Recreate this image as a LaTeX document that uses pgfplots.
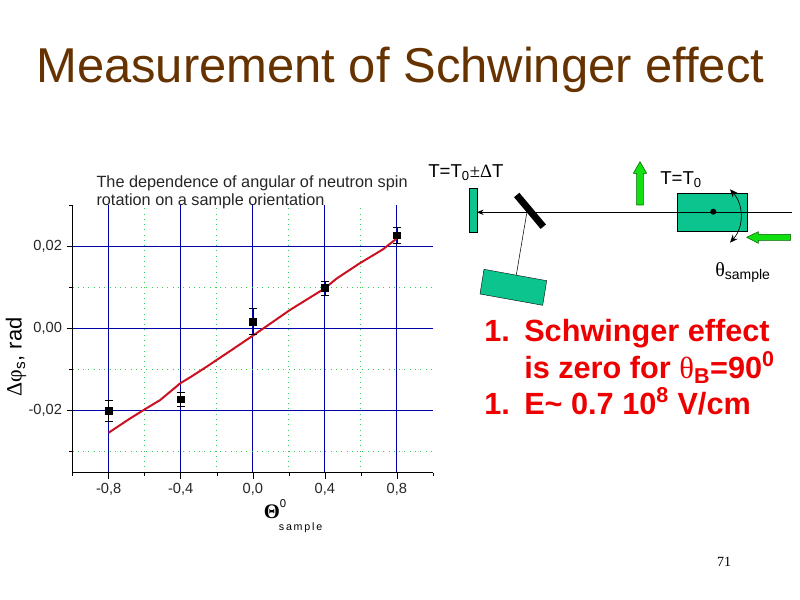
\documentclass[border=0pt]{standalone}
\usepackage{fontspec}
\usepackage{pgfplots}
\usepackage{pgfplotstable}
\pgfplotsset{compat=1.18}
\usetikzlibrary{arrows.meta}
\setmainfont{Liberation Sans}
\newfontfamily\sym{Liberation Serif}

\definecolor{titlebrown}{HTML}{663300}
\definecolor{gridblue}{HTML}{0000AA}
\definecolor{gridgreen}{HTML}{33CC55}
\definecolor{fitred}{HTML}{CC1122}
\definecolor{teal}{HTML}{0CC48E}
\definecolor{arrowgreen}{HTML}{11E011}
\definecolor{textred}{HTML}{EE0000}

% measured points
\pgfplotstableread{
x y err
-0.8 -0.0201 0.0026
-0.4 -0.0173 0.00175
0.0 0.0017 0.0032
0.4 0.0098 0.0017
0.8 0.0227 0.00195
}\points

% red fit line
\pgfplotstableread{
x y
-0.8 -0.02545
-0.689 -0.0222
-0.6 -0.01976
-0.514 -0.01748
-0.403 -0.01341
-0.348 -0.01195
-0.256 -0.00935
-0.126 -0.00553
0 -0.00179
0.113 0.00163
0.206 0.00447
0.4 0.00976
0.464 0.0121
0.593 0.01585
0.722 0.01925
0.8 0.02195
}\fitline

\newcommand{\redtext}[3]{%
  \node[anchor=base west,inner sep=0,text=textred,font=\fontsize{23}{23}\selectfont\bfseries] at (#1,#2) {#3};}

\begin{document}
\begin{tikzpicture}
\path[use as bounding box,fill=white] (0,0) rectangle (600pt,450pt);

\begin{axis}[
  at={(54.5pt,95.5pt)},
  anchor=south west,
  scale only axis,
  width=270.2pt,
  height=200.8pt,
  xmin=-1, xmax=1,
  ymin=-0.0352, ymax=0.0301,
  axis lines=left,
  axis line style={-,black},
  tick align=outside,
  tick style={black,thin},
  major tick length=4.5pt,
  minor tick length=2.5pt,
  xtick={-0.8,-0.4,0,0.4,0.8},
  xticklabels={{-0,8},{-0,4},{0,0},{0,4},{0,8}},
  minor xtick={-0.6,-0.2,0.2,0.6},
  extra x ticks={-1,1},
  extra x tick labels={},
  extra x tick style={grid=none,major tick length=2.5pt},
  ytick={-0.02,0,0.02},
  yticklabels={{-0,02},{0,00},{0,02}},
  minor ytick={-0.03,-0.01,0.01},
  extra y ticks={0.03},
  extra y tick labels={},
  extra y tick style={grid=none,major tick length=2.5pt},
  scaled ticks=false,
  grid=both,
  major grid style={gridblue,line width=0.75pt},
  minor grid style={gridgreen,dash pattern=on 0.75pt off 3.2pt,line width=0.75pt},
  tick label style={font=\fontsize{11}{13}\selectfont,text=black!85},
  title={The dependence of angular of neutron spin\\rotation on a sample orientation},
  title style={at={(rel axis cs:0.0655,1.08)},anchor=north west,align=left,inner sep=0pt,
    font=\fontsize{12.2}{13.5}\selectfont,text=black!85},
  xlabel={{\sym\bfseries\fontsize{15.5}{15.5}\selectfont Θ}\raisebox{8pt}{\fontsize{8.5}{8.5}\selectfont 0}\hspace{-5.5pt}\raisebox{-9pt}{\fontsize{8}{8}\selectfont s\,a\,m\,p\,l\,e}},
  xlabel style={at={(rel axis cs:0.53,0)},anchor=north west,yshift=-20pt,inner sep=0pt},
  ylabel={{\sym Δφ}\textsubscript{s}, rad},
  ylabel style={at={(rel axis cs:-0.157,0.432)},anchor=center,rotate=0,inner sep=0pt,
    font=\fontsize{16.4}{16.4}\selectfont},
]
\addplot[fitred,line width=1.5pt,line join=round,no markers] table[x=x,y=y] {\fitline};
\addplot[only marks,mark=square*,mark size=2.6pt,mark options={black},
  error bars/.cd,y dir=both,y explicit,
  error bar style={black,thin},
  error mark options={rotate=90,mark size=3pt,black,thin}]
  table[x=x,y=y,y error=err] {\points};
\end{axis}

\node[anchor=base west,inner sep=0,text=titlebrown,font=\fontsize{36.7}{36.7}\selectfont] at (27pt,388pt) {Measurement of Schwinger effect};
\node[anchor=base,inner sep=0,font=\sym\fontsize{10.5}{10.5}\selectfont] at (543pt,25pt) {71};

\begin{scope}[x=0.75pt,y=-0.75pt,yshift=450pt]
  % detector, mirror and second detector
  \draw[black,line width=0.3pt,fill=teal] (469.3,188.3) rectangle (476.7,232.3);
  \draw[-{Stealth[length=5pt,width=4pt]},line width=0.5pt] (791.7,212.3) -- (476.9,212.3);
  \draw[black,line width=5.2pt] (516.7,195) -- (543.3,226.7);
  \draw[line width=0.4pt] (526.7,213.3) -- (516.3,275);
  \draw[black,line width=0.3pt,fill=teal] (484,269.3) -- (546.7,280.7) -- (542.7,305.3) -- (480,294) -- cycle;
  % sample
  \draw[black,line width=0.3pt,fill=teal] (677.3,193.3) rectangle (746.7,231.3);
  \draw[-,line width=0.5pt] (677.3,212.3) -- (746.7,212.3);
  \fill[black] (713.3,211.7) circle (3);
  \draw[{Stealth[length=6pt,width=5pt]}-{Stealth[length=6pt,width=5pt]},line width=0.5pt]
    (730,189.3) .. controls (744,205) and (744,227) .. (730,242.7);
  % field arrows
  \draw[black!60!green,line width=0.4pt,fill=arrowgreen] (636.7,205) -- (636.7,173.3) -- (633.3,173.3) -- (640,161.7)
    -- (646.7,173.3) -- (643.3,173.3) -- (643.3,205) -- cycle;
  \draw[black!60!green,line width=0.4pt,fill=arrowgreen] (790.7,234.3) -- (758.3,234.3) -- (758.3,231.7) -- (746.7,237.3)
    -- (758.3,243.3) -- (758.3,240.3) -- (790.7,240.3) -- cycle;
  % labels of the scheme
  \node[anchor=base west,inner sep=0,font=\fontsize{14}{14}\selectfont] at (428,178) {T=T\textsubscript{0}{\sym ±Δ}T};
  \node[anchor=base west,inner sep=0,font=\fontsize{14}{14}\selectfont] at (660,185) {T=T\textsubscript{0}};
  \node[anchor=base west,inner sep=0,font=\fontsize{15}{15}\selectfont] at (715,277) {{\sym θ}\raisebox{-2pt}{\fontsize{10.5}{10.5}\selectfont sample}};
  % red text
  \redtext{484}{342}{1.}
  \redtext{524}{342}{Schwinger effect}
  \redtext{524}{379}{is zero for {\sym\mdseries θ}\textsubscript{B}=90\textsuperscript{0}}
  \redtext{484}{415}{1.}
  \redtext{524}{415}{E\textasciitilde{} 0.7 10\textsuperscript{8} V/cm}
\end{scope}
\end{tikzpicture}
\end{document}
